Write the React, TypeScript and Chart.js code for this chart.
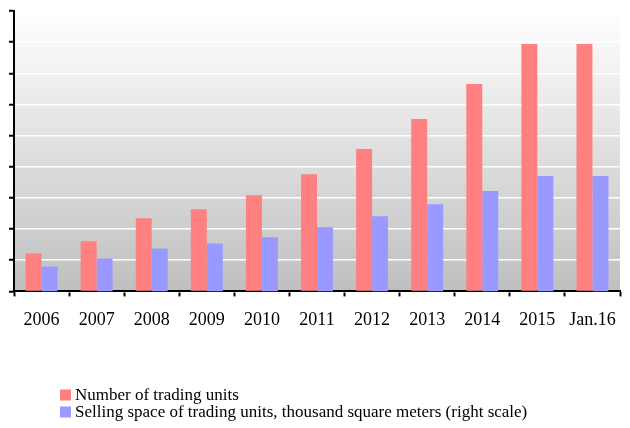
import React, { useEffect, useRef } from "react";
import { Chart, registerables } from "chart.js";

Chart.register(...registerables);

const categories = ["2006", "2007", "2008", "2009", "2010", "2011", "2012", "2013", "2014", "2015", "Jan.16"];
const tradingUnits = [122, 161, 235, 264, 309, 376, 457, 553, 666, 794, 794];
const sellingSpace = [80, 106, 138, 154, 174, 206, 241, 280, 322, 370, 370];
const seriesLabels = [
  "Number of trading units",
  "Selling space of trading units, thousand square meters (right scale)",
];
const seriesColors = ["#FF8080", "#9999FF"];
const axisMax = 900;
const axisStep = 100;

const FONT = '"Liberation Serif", "Times New Roman", serif';

const bgPlugin = {
  id: "plotBg",
  beforeDraw(chart: any) {
    const { ctx, chartArea } = chart;
    if (!chartArea) return;
    const g = ctx.createLinearGradient(0, chartArea.top, 0, chartArea.bottom);
    g.addColorStop(0, "#ffffff");
    g.addColorStop(1, "#bfbfbf");
    ctx.save();
    ctx.fillStyle = g;
    ctx.fillRect(chartArea.left, chartArea.top, chartArea.right - chartArea.left, chartArea.bottom - chartArea.top);
    ctx.restore();
  },
};

const legendPlugin = {
  id: "customLegend",
  afterDraw(chart: any) {
    const { ctx } = chart;
    ctx.save();
    ctx.font = `17px ${FONT}`;
    ctx.textBaseline = "middle";
    ctx.textAlign = "left";
    const startX = 60;
    const startY = 395;
    const rowH = 17;
    chart.data.datasets.forEach((ds: any, i: number) => {
      const y = startY + i * rowH;
      ctx.fillStyle = ds.backgroundColor;
      ctx.fillRect(startX, y - 5.5, 11, 11);
      ctx.fillStyle = "#000";
      ctx.fillText(ds.label, startX + 15, y + 1);
    });
    ctx.restore();
  },
};

export default function App() {
  const ref = useRef<HTMLCanvasElement>(null);
  useEffect(() => {
    if (!ref.current) return;
    const chart = new Chart(ref.current, {
      type: "bar",
      data: {
        labels: categories,
        datasets: [
          {
            label: seriesLabels[0],
            data: tradingUnits,
            backgroundColor: seriesColors[0],
            yAxisID: "y",
            barPercentage: 1,
            categoryPercentage: 0.58,
          },
          {
            label: seriesLabels[1],
            data: sellingSpace,
            backgroundColor: seriesColors[1],
            yAxisID: "y1",
            barPercentage: 1,
            categoryPercentage: 0.58,
          },
        ],
      },
      options: {
        responsive: false,
        animation: false,
        layout: { padding: { left: 9, right: 10, top: 11, bottom: 84 } },
        plugins: {
          legend: { display: false },
          tooltip: { enabled: false },
        },
        scales: {
          x: {
            grid: {
              drawOnChartArea: false,
              tickColor: "#000",
              tickWidth: 2,
              tickLength: 5,
              offset: true,
            },
            border: { color: "#000", width: 2 },
            ticks: {
              color: "#000",
              font: { family: FONT, size: 18 },
              padding: 13,
              maxRotation: 0,
              autoSkip: false,
            },
          },
          y: {
            position: "left",
            min: 0,
            max: axisMax,
            grid: {
              color: "#ffffff",
              lineWidth: 1.5,
              tickColor: "#000",
              tickWidth: 2,
              tickLength: 5,
            },
            border: { color: "#000", width: 2 },
            ticks: { display: false, stepSize: axisStep },
          },
          y1: {
            position: "right",
            display: false,
            min: 0,
            max: axisMax,
            grid: { drawOnChartArea: false },
          },
        },
      },
      plugins: [bgPlugin, legendPlugin],
    });
    return () => chart.destroy();
  }, []);
  return (
    <div style={{ position: "fixed", left: 0, top: 0, width: 630, height: 428, background: "#fff" }}>
      <canvas ref={ref} width={630} height={428} style={{ display: "block" }} />
    </div>
  );
}
